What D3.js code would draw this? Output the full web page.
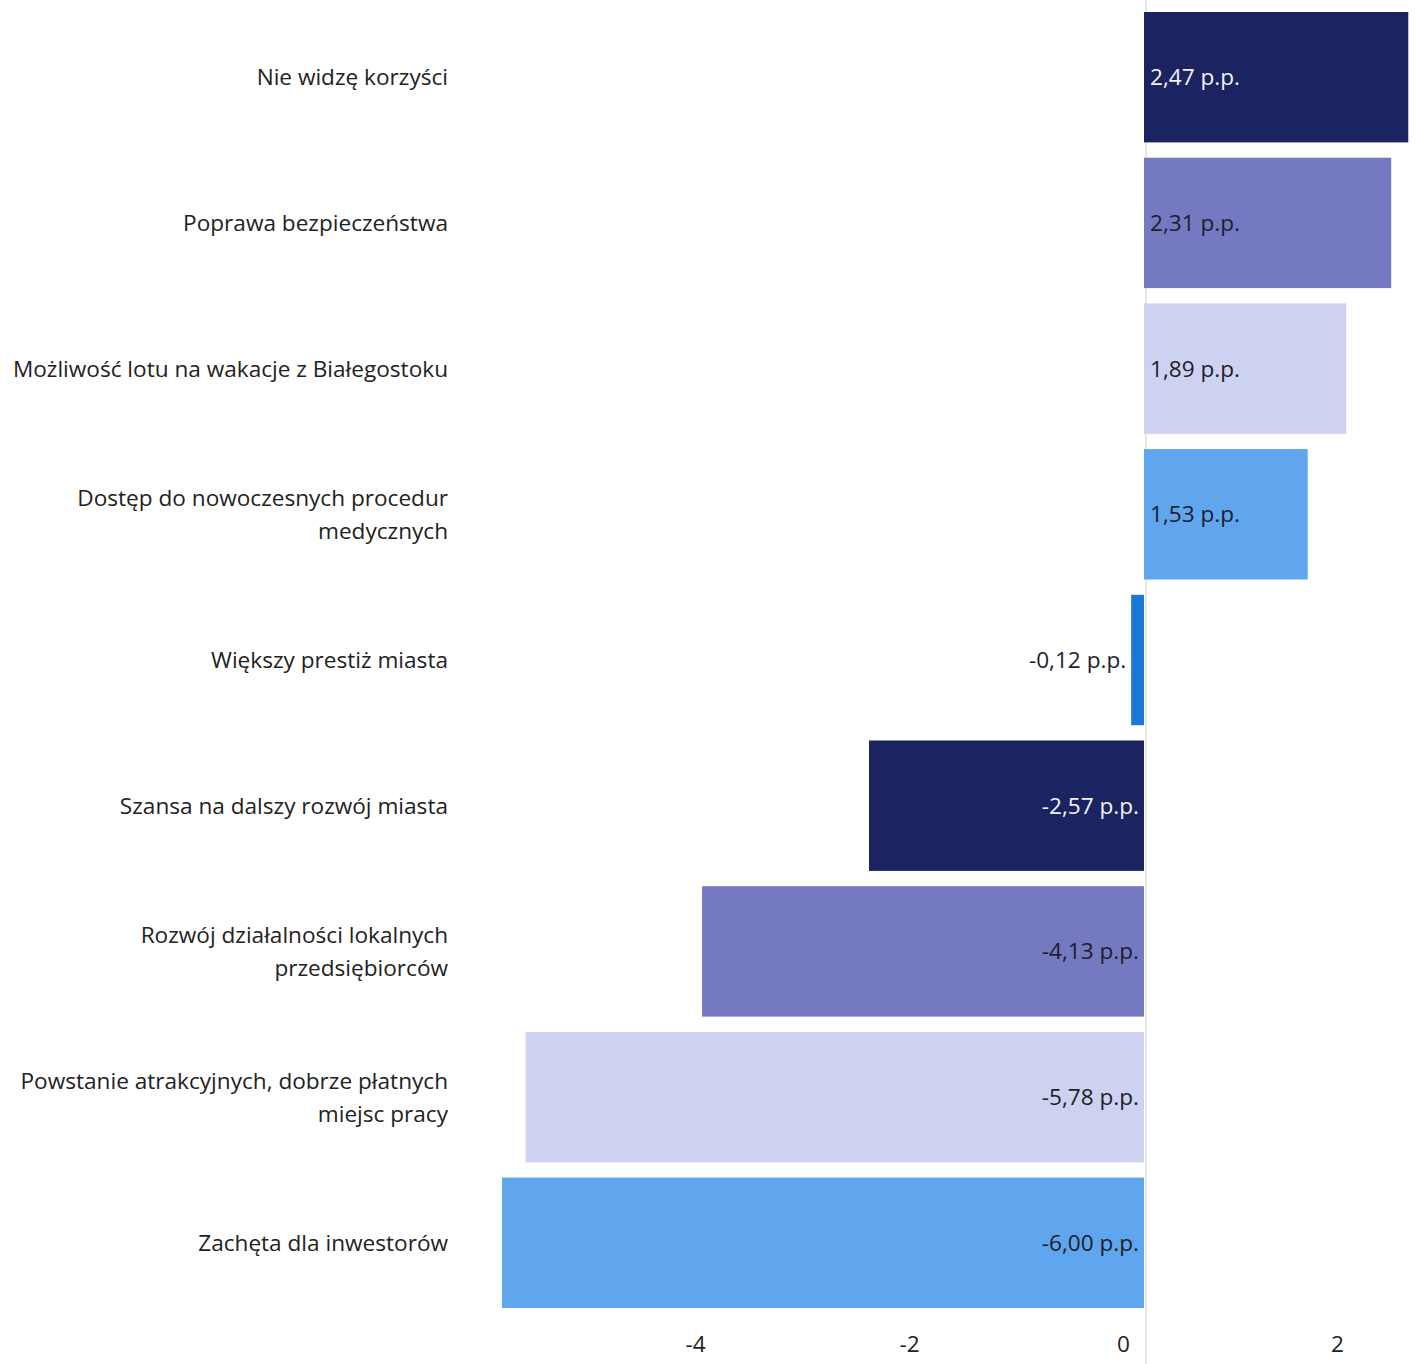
<!DOCTYPE html>
<html>
<head>
<meta charset="utf-8">
<script src="https://cdn.jsdelivr.net/npm/d3@7"></script>
<style>
  html, body { margin: 0; padding: 0; background: #ffffff; }
  svg { display: block; font-family: "Open Sans", "Noto Sans", sans-serif; }
</style>
</head>
<body>
<svg id="chart" width="1418" height="1364"></svg>
<script>
const categories = [
  ["Nie widzę korzyści"],
  ["Poprawa bezpieczeństwa"],
  ["Możliwość lotu na wakacje z Białegostoku"],
  ["Dostęp do nowoczesnych procedur", "medycznych"],
  ["Większy prestiż miasta"],
  ["Szansa na dalszy rozwój miasta"],
  ["Rozwój działalności lokalnych", "przedsiębiorców"],
  ["Powstanie atrakcyjnych, dobrze płatnych", "miejsc pracy"],
  ["Zachęta dla inwestorów"]
];
const values = [2.47, 2.31, 1.89, 1.53, -0.12, -2.57, -4.13, -5.78, -6.00];
const barColors = ["#1c2361", "#7479c2", "#cdd2f1", "#5fa6ee", "#1a78d6", "#1c2361", "#7479c2", "#cdd2f1", "#5fa6ee"];
const labelColors = ["#f2f2f2", "#1e1e2a", "#1e1e2a", "#1e1e2a", "#1e1e2a", "#f2f2f2", "#1e1e2a", "#1e1e2a", "#1e1e2a"];
const tickValues = [-4, -2, 0, 2];

const svg = d3.select("#chart");
const keys = categories.map((c, i) => "c" + i);

const x = d3.scaleLinear().domain([-6, 2.5]).range([502, 1411.5]);
const y = d3.scaleBand().domain(keys).range([12, 1308]).paddingInner(0.105).paddingOuter(0);

const fmt = v => d3.format(".2f")(v).replace(".", ",").replace("−", "-") + " p.p.";
const FS = 22.6;

// zero line
svg.append("line")
  .attr("x1", x(0) + 2).attr("x2", x(0) + 2)
  .attr("y1", 0).attr("y2", 1364)
  .attr("stroke", "#e6e6e6").attr("stroke-width", 2);

// bars
svg.append("g").selectAll("rect")
  .data(values)
  .join("rect")
  .attr("x", d => x(Math.min(0, d)))
  .attr("width", d => Math.abs(x(d) - x(0)))
  .attr("y", (d, i) => y(keys[i]))
  .attr("height", y.bandwidth())
  .attr("fill", (d, i) => barColors[i]);

// value labels
svg.append("g").selectAll("text")
  .data(values)
  .join("text")
  .attr("x", d => {
    if (d >= 0) return x(0) + 6;
    if (Math.abs(x(d) - x(0)) < 100) return x(d) - 5;
    return x(0) - 5;
  })
  .attr("y", (d, i) => y(keys[i]) + y.bandwidth() / 2)
  .attr("dy", "0.35em")
  .attr("text-anchor", d => d >= 0 ? "start" : "end")
  .attr("font-size", FS)
  .attr("fill", (d, i) => Math.abs(x(d) - x(0)) < 100 ? "#1e1e2a" : labelColors[i])
  .text(d => fmt(d));

// category labels
const catG = svg.append("g");
categories.forEach((lines, i) => {
  const cy = y(keys[i]) + y.bandwidth() / 2;
  const lh = 33;
  const t = catG.append("text")
    .attr("text-anchor", "end")
    .attr("font-size", FS)
    .attr("fill", "#222222");
  lines.forEach((ln, j) => {
    t.append("tspan")
      .attr("x", 448)
      .attr("y", cy + (j - (lines.length - 1) / 2) * lh)
      .attr("dy", "0.35em")
      .text(ln);
  });
});

// x axis
const axis = d3.axisBottom(x).tickValues(tickValues).tickSize(0).tickPadding(0)
  .tickFormat(d => String(d));
const ax = svg.append("g")
  .attr("transform", "translate(-21, 1336)")
  .call(axis);
ax.select(".domain").remove();
ax.selectAll("text")
  .attr("font-size", FS)
  .attr("font-family", "'Open Sans', 'Noto Sans', sans-serif")
  .attr("fill", "#222222");
</script>
</body>
</html>
